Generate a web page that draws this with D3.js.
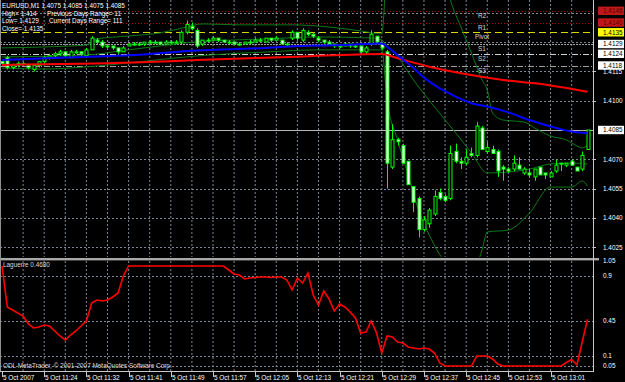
<!DOCTYPE html>
<html>
<head>
<meta charset="utf-8">
<script src="https://cdn.jsdelivr.net/npm/d3@7"></script>
<style>
  html, body { margin: 0; padding: 0; background: #000; }
  svg { display: block; }
  text { font-family: "Liberation Sans", Arial, sans-serif; font-size: 6.4px; fill: #fff; }
</style>
</head>
<body>
<svg id="chart" width="625" height="382"></svg>
<script>
// ---- data (EURUSD M1, 5 Oct 2007) ----
const timeLabels = ["5 Oct 2007", "5 Oct 11:24", "5 Oct 11:32", "5 Oct 11:41", "5 Oct 11:49", "5 Oct 11:57",
  "5 Oct 12:05", "5 Oct 12:13", "5 Oct 12:21", "5 Oct 12:29", "5 Oct 12:37", "5 Oct 12:45", "5 Oct 12:53", "5 Oct 13:01"];

const open = [1.4120,1.4122,1.4117,1.4118,1.4119,1.4118,1.4116,1.4118,1.4120,1.4122,1.4123,1.4124,1.4125,1.4122,1.4125,1.4125,
  1.4123,1.4126,1.4131,1.4130,1.4128,1.4128,1.4127,1.4125,1.4128,1.4129,1.4129,1.4129,1.4130,1.4130,1.4130,1.4129,
  1.4130,1.4130,1.4130,1.4135,1.4138,1.4136,1.4129,1.4131,1.4131,1.4132,1.4131,1.4130,1.4130,1.4129,1.4129,1.4130,
  1.4130,1.4131,1.4130,1.4132,1.4131,1.4131,1.4129,1.4132,1.4135,1.4131,1.4135,1.4134,1.4132,1.4131,1.4130,1.4129,
  1.4128,1.4128,1.4129,1.4128,1.4128,1.4125,1.4129,1.4133,1.4129,1.4125,1.4066,1.4080,1.4077,1.4069,1.4056,1.4050,
  1.4034,1.4037,1.4042,1.4053,1.4051,1.4050,1.4074,1.4069,1.4068,1.4073,1.4072,1.4086,1.4074,1.4075,1.4074,1.4066,
  1.4065,1.4065,1.4067,1.4063,1.4063,1.4061,1.4066,1.4063,1.4061,1.4064,1.4068,1.4067,1.4069,1.4066,1.4065,1.4075];
const high = [1.4121,1.4123,1.4119,1.4120,1.4120,1.4119,1.4118,1.4120,1.4123,1.4124,1.4125,1.4126,1.4125,1.4126,1.4126,1.4125,
  1.4127,1.4133,1.4132,1.4131,1.4129,1.4128,1.4127,1.4128,1.4130,1.4130,1.4130,1.4130,1.4131,1.4131,1.4130,1.4131,
  1.4131,1.4131,1.4136,1.4141,1.4140,1.4137,1.4131,1.4132,1.4133,1.4132,1.4131,1.4131,1.4130,1.4130,1.4130,1.4131,
  1.4132,1.4132,1.4132,1.4132,1.4133,1.4131,1.4130,1.4136,1.4135,1.4137,1.4136,1.4135,1.4133,1.4131,1.4131,1.4129,
  1.4129,1.4130,1.4129,1.4129,1.4128,1.4128,1.4136,1.4133,1.4130,1.4126,1.4088,1.4081,1.4078,1.4069,1.4056,1.4051,
  1.4041,1.4045,1.4054,1.4055,1.4052,1.4077,1.4078,1.4071,1.4075,1.4076,1.4089,1.4087,1.4079,1.4077,1.4075,1.4067,
  1.4066,1.4072,1.4071,1.4066,1.4065,1.4065,1.4066,1.4063,1.4064,1.4070,1.4068,1.4068,1.4070,1.4066,1.4074,1.4085];
const low = [1.4118,1.4116,1.4116,1.4117,1.4118,1.4116,1.4115,1.4117,1.4119,1.4121,1.4122,1.4123,1.4122,1.4122,1.4124,1.4123,
  1.4122,1.4126,1.4129,1.4127,1.4127,1.4126,1.4124,1.4125,1.4128,1.4128,1.4128,1.4128,1.4129,1.4129,1.4129,1.4129,
  1.4129,1.4129,1.4129,1.4134,1.4136,1.4127,1.4128,1.4130,1.4131,1.4130,1.4130,1.4129,1.4129,1.4128,1.4129,1.4129,
  1.4130,1.4130,1.4130,1.4130,1.4131,1.4129,1.4128,1.4131,1.4131,1.4130,1.4133,1.4132,1.4130,1.4129,1.4129,1.4127,
  1.4127,1.4128,1.4127,1.4127,1.4124,1.4124,1.4128,1.4129,1.4126,1.4055,1.4065,1.4077,1.4068,1.4057,1.4043,1.4030,
  1.4033,1.4035,1.4041,1.4049,1.4048,1.4049,1.4068,1.4065,1.4067,1.4071,1.4071,1.4075,1.4073,1.4073,1.4061,1.4059,
  1.4063,1.4064,1.4065,1.4062,1.4061,1.4059,1.4062,1.4060,1.4061,1.4063,1.4064,1.4066,1.4067,1.4064,1.4064,1.4075];
const close = [1.4119,1.4117,1.4118,1.4119,1.4119,1.4117,1.4118,1.4120,1.4122,1.4123,1.4124,1.4125,1.4123,1.4125,1.4125,1.4124,
  1.4126,1.4132,1.4130,1.4128,1.4128,1.4127,1.4125,1.4127,1.4129,1.4129,1.4129,1.4130,1.4130,1.4130,1.4129,1.4130,
  1.4130,1.4130,1.4135,1.4139,1.4137,1.4128,1.4131,1.4131,1.4132,1.4131,1.4130,1.4130,1.4129,1.4129,1.4130,1.4130,
  1.4131,1.4131,1.4132,1.4131,1.4132,1.4129,1.4129,1.4135,1.4132,1.4136,1.4134,1.4133,1.4131,1.4130,1.4129,1.4128,
  1.4128,1.4129,1.4128,1.4128,1.4125,1.4127,1.4134,1.4130,1.4127,1.4068,1.4080,1.4079,1.4068,1.4057,1.4048,1.4034,
  1.4039,1.4044,1.4051,1.4050,1.4049,1.4073,1.4069,1.4068,1.4071,1.4072,1.4087,1.4075,1.4076,1.4073,1.4064,1.4065,
  1.4064,1.4068,1.4065,1.4065,1.4062,1.4065,1.4062,1.4062,1.4063,1.4067,1.4068,1.4068,1.4067,1.4064,1.4072,1.4085];

// moving averages and bollinger bands, sampled at the bars where they were read
const blueBars = [0, 12, 25, 37, 50, 56, 65, 72, 73, 74, 76, 78, 80, 82, 84, 86, 89, 92, 96, 100, 104, 108, 111];
const blueVals = [1.41208,1.41221,1.41234,1.41257,1.41270,1.41280,1.41285,1.41293,1.41276,1.41255,1.41211,1.41167,1.41118,1.41080,1.41049,1.41021,
  1.40987,1.40970,1.40940,1.40901,1.40868,1.40842,1.40833];
const redBars = [0, 25, 37, 56, 72, 75, 81, 87, 95, 101, 111];
const redVals = [1.41183,1.41195,1.41208,1.41225,1.41239,1.41217,1.41174,1.41140,1.41106,1.41089,1.41046];

const bbBars = [0, 8, 16, 18, 24, 30, 35, 38, 45, 55, 62, 68, 72, 73, 76, 80, 84, 85, 87, 89, 91, 92, 93, 95, 97, 99, 101, 104, 107, 109, 110, 111];
const bbUpper = [1.41270,1.41275,1.41285,1.41316,1.41331,1.41347,1.41377,1.41393,1.41388,1.41388,1.41377,1.41357,1.41342,1.41669,1.41823,1.41874,
  1.41618,1.41516,1.41377,1.41244,1.41106,1.41055,1.40937,1.40901,1.40896,1.40891,1.40860,1.40819,1.40799,1.40768,1.40758,1.40773];
const midBars = [0, 16, 24, 37, 50, 60, 70, 72, 73, 75, 78, 82, 86, 89, 92, 96, 100, 104, 108, 111];
const bbMiddle = [1.41224,1.41234,1.41260,1.41301,1.41316,1.41326,1.41321,1.41311,1.41280,1.41224,1.41106,1.40968,1.40835,1.40733,1.40630,
  1.40635,1.40650,1.40676,1.40681,1.40676];
const lowBars = [0, 8, 16, 24, 37, 50, 60, 70, 72, 73, 75, 77, 79, 81, 84, 88, 90, 91, 92, 96, 100, 104, 108, 110, 111];
const bbLower = [1.41167,1.41162,1.41173,1.41193,1.41229,1.41249,1.41260,1.41260,1.41260,1.41004,1.40799,1.40620,1.40440,1.40312,1.40174,
  1.40108,1.40159,1.40236,1.40328,1.40338,1.40425,1.40558,1.40558,1.40589,1.40563];

// daily pivots
const pivotNames = ["R2", "R1", "Pivot", "S1", "S2", "S3"];
const pivotVals = [1.4146, 1.4140, 1.4135, 1.4129, 1.4124, 1.4118];

const priceTicks = [1.4025, 1.4040, 1.4055, 1.4070, 1.4085, 1.4100, 1.4115, 1.4130, 1.4145];
const priceTickLabels = ["1.4025", "1.4040", "1.4055", "1.4070", "", "1.4100", "1.4115", "", ""];
const bid = 1.4085;

// Laguerre RSI, one value per bar
const laguerre = [1.00,0.59,0.56,0.53,0.50,0.42,0.38,0.39,0.41,0.40,0.35,0.30,0.26,0.31,0.35,0.40,
  0.45,0.63,0.66,0.65,0.66,0.69,0.73,0.90,1.00,1.00,1.00,1.00,1.00,1.00,1.00,1.00,
  1.00,1.00,1.00,1.00,1.00,1.00,1.00,1.00,1.00,1.00,1.00,0.96,0.92,0.91,0.87,0.88,
  0.885,0.89,0.89,0.885,0.89,0.89,0.86,0.76,0.88,0.83,0.93,0.71,0.61,0.75,0.67,0.55,
  0.62,0.59,0.54,0.48,0.33,0.34,0.45,0.33,0.13,0.30,0.29,0.24,0.23,0.19,0.18,0.17,
  0.18,0.17,0.13,0.03,0,0,0,0,0,0,0.10,0.10,0.10,0.07,0.02,0,
  0,0,0,0,0,0,0,0,0,0,0,0.035,0.065,0.01,0.24,0.468];
const indLevels = [0.9, 0.45, 0.1, 0];
const indTickLabels = ["1.05", "0.9", "0.45", "0.1", "0.05"];
const indTickVals = [1.05, 0.9, 0.45, 0.1, 0];

// ---- layout ----
const W = 625, H = 382;
const plotRight = 593;
const mainTop = 0, mainBottom = 258;
const indTop = 261, indBottom = 371;

const svg = d3.select("#chart");
svg.append("rect").attr("width", W).attr("height", H).attr("fill", "#000");

const bars = d3.range(open.length);
const x = d3.scaleLinear().domain([0, 111]).range([2, 587.5]);
const y = d3.scaleLinear().domain([1.4020, 1.41505]).range([257, 2]);
const yi = d3.scaleLinear().domain([0, 1.05]).range([366, 261]);

const defs = svg.append("defs");
defs.append("clipPath").attr("id", "clipMain").append("rect")
  .attr("x", 0).attr("y", mainTop).attr("width", plotRight).attr("height", mainBottom - mainTop - 1);
defs.append("clipPath").attr("id", "clipInd").append("rect")
  .attr("x", 0).attr("y", indTop).attr("width", plotRight).attr("height", indBottom - indTop);

const gridColor = "#7b8794";

// vertical grid, every 4 bars, both windows
const vgrid = d3.range(4, 112, 4);
svg.append("g").selectAll("line").data(vgrid).join("line")
  .attr("x1", d => x(d)).attr("x2", d => x(d))
  .attr("y1", mainTop).attr("y2", mainBottom - 1)
  .attr("stroke", gridColor).attr("stroke-width", 1).attr("stroke-dasharray", "2,2");
svg.append("g").selectAll("line").data(vgrid).join("line")
  .attr("x1", d => x(d)).attr("x2", d => x(d))
  .attr("y1", indTop).attr("y2", indBottom)
  .attr("stroke", gridColor).attr("stroke-width", 1).attr("stroke-dasharray", "2,2");

// horizontal grid, main window
svg.append("g").selectAll("line").data(priceTicks).join("line")
  .attr("x1", 0).attr("x2", plotRight)
  .attr("y1", d => Math.round(y(d)) + 0.5).attr("y2", d => Math.round(y(d)) + 0.5)
  .attr("stroke", gridColor).attr("stroke-dasharray", "2,2");

// horizontal grid, indicator window
svg.append("g").selectAll("line").data(indLevels).join("line")
  .attr("x1", 0).attr("x2", plotRight)
  .attr("y1", d => Math.round(yi(d)) + 0.5).attr("y2", d => Math.round(yi(d)) + 0.5)
  .attr("stroke", gridColor).attr("stroke-dasharray", "2,2");

// pivot lines
const pivotStyle = [
  { c: "#a01010", dash: "1,2" },
  { c: "#a01010", dash: "1,2" },
  { c: "#d8d800", dash: "7,4" },
  { c: "#a0a0a0", dash: "2,1" },
  { c: "#d0d0d0", dash: "6,2,1,2" },
  { c: "#a0a0a0", dash: "6,2,1,2" }
];
const pv = svg.append("g");
pivotVals.forEach((v, i) => {
  const yy = Math.round(y(v)) + 0.5;
  pv.append("line").attr("x1", 0).attr("x2", plotRight).attr("y1", yy).attr("y2", yy)
    .attr("stroke", pivotStyle[i].c).attr("stroke-width", 1).attr("stroke-dasharray", pivotStyle[i].dash);
  pv.append("text").attr("x", 482).attr("y", yy + 6.5).attr("text-anchor", "middle")
    .style("fill", "#d8d8d8").text(pivotNames[i]);
});

// bid line
svg.append("line").attr("x1", 0).attr("x2", plotRight)
  .attr("y1", Math.round(y(bid)) + 0.5).attr("y2", Math.round(y(bid)) + 0.5)
  .attr("stroke", "#b8b8b8").attr("stroke-width", 1);

// bollinger bands
const main = svg.append("g").attr("clip-path", "url(#clipMain)");
const bandLine = (idx, vals) => d3.line().x((d, i) => x(idx[i])).y(d => y(d)).curve(d3.curveMonotoneX)(vals);
[[bbBars, bbUpper], [midBars, bbMiddle], [lowBars, bbLower]].forEach(([b, v]) => {
  main.append("path").attr("d", bandLine(b, v)).attr("fill", "none")
    .attr("stroke", "#0b7a17").attr("stroke-width", 1);
});

// candles
const cg = main.append("g");
cg.selectAll("line").data(bars).join("line")
  .attr("x1", i => Math.round(x(i)) + 0.5).attr("x2", i => Math.round(x(i)) + 0.5)
  .attr("y1", i => y(high[i])).attr("y2", i => y(low[i]))
  .attr("stroke", "#00ff00").attr("stroke-width", 1);
cg.selectAll("rect").data(bars).join("rect")
  .attr("x", i => Math.round(x(i)) - 1)
  .attr("width", 3)
  .attr("y", i => y(Math.max(open[i], close[i])))
  .attr("height", i => Math.max(1, Math.abs(y(open[i]) - y(close[i]))))
  .attr("fill", i => close[i] >= open[i] ? "#000" : "#fff")
  .attr("stroke", "#00ff00").attr("stroke-width", 1);

// moving averages
main.append("path").attr("d", bandLine(redBars, redVals)).attr("fill", "none")
  .attr("stroke", "#ff0000").attr("stroke-width", 2);
main.append("path").attr("d", bandLine(blueBars, blueVals)).attr("fill", "none")
  .attr("stroke", "#0000ff").attr("stroke-width", 2);

// laguerre line
svg.append("g").attr("clip-path", "url(#clipInd)").append("path")
  .datum(laguerre)
  .attr("d", d3.line().x((d, i) => x(i)).y(d => yi(d)))
  .attr("fill", "none").attr("stroke", "#ff0000").attr("stroke-width", 1.6);

// window separator and frame
svg.append("rect").attr("x", 0).attr("y", 258).attr("width", plotRight + 6).attr("height", 2.4).attr("fill", "#a8a8a8");
svg.append("line").attr("x1", plotRight + 0.5).attr("x2", plotRight + 0.5).attr("y1", 0).attr("y2", indBottom)
  .attr("stroke", "#c8c8c8");
svg.append("line").attr("x1", 0).attr("x2", plotRight + 1).attr("y1", indBottom + 0.5).attr("y2", indBottom + 0.5)
  .attr("stroke", "#c8c8c8");
svg.append("line").attr("x1", 0.5).attr("x2", 0.5).attr("y1", 0).attr("y2", indBottom)
  .attr("stroke", "#909090");

// price axis labels
const pa = svg.append("g");
priceTicks.forEach((v, i) => {
  if (!priceTickLabels[i]) return;
  pa.append("line").attr("x1", plotRight).attr("x2", plotRight + 3).attr("y1", Math.round(y(v)) + 0.5).attr("y2", Math.round(y(v)) + 0.5).attr("stroke", "#c8c8c8");
  pa.append("text").attr("x", 603).attr("y", y(v) + 2.3).text(priceTickLabels[i]);
});
const boxFill = ["#c01818", "#c01818", "#ffff00", "#fff", "#fff", "#fff"];
const boxText = ["#5a0000", "#5a0000", "#000", "#000", "#000", "#000"];
pivotVals.forEach((v, i) => {
  const yy = y(v);
  pa.append("rect").attr("x", 598).attr("y", yy - 4.2).attr("width", 26).attr("height", 8.4).attr("fill", boxFill[i]);
  pa.append("text").attr("x", 603).attr("y", yy + 2.3).style("fill", boxText[i]).text(d3.format(".4f")(v));
});
pa.append("rect").attr("x", 598).attr("y", y(bid) - 4.2).attr("width", 26).attr("height", 8.4).attr("fill", "#fff");
pa.append("text").attr("x", 603).attr("y", y(bid) + 2.3).style("fill", "#000").text(d3.format(".4f")(bid));

// indicator axis labels
indTickVals.forEach((v, i) => {
  pa.append("text").attr("x", 603).attr("y", yi(v) + 2.3).text(indTickLabels[i]);
});

// time axis
const ta = svg.append("g");
timeLabels.forEach((t, k) => {
  const xx = Math.round(x(k * 8)) + 0.5;
  ta.append("line").attr("x1", xx).attr("x2", xx).attr("y1", indBottom).attr("y2", indBottom + 6).attr("stroke", "#c8c8c8");
  ta.append("text").attr("x", xx + 0.5).attr("y", 379.5).text(t);
});

// texts in the windows
const info = svg.append("g");
info.append("text").attr("x", 2).attr("y", 8.4).text("EURUSD,M1  1.4075 1.4085 1.4075 1.4085");
info.append("text").attr("x", 2).attr("y", 15.8).text("High= 1.414");
info.append("text").attr("x", 47).attr("y", 15.8).text("Previous Days Range= 11");
info.append("text").attr("x", 2).attr("y", 23.2).text("Low= 1.4129");
info.append("text").attr("x", 49).attr("y", 23.2).text("Current Days Range= 111");
info.append("text").attr("x", 2).attr("y", 30.7).text("Close= 1.4135");
info.append("text").attr("x", 3).attr("y", 267.4).style("fill", "#d8d8d8").text("Laguerre 0.4680");
info.append("text").attr("x", 3).attr("y", 368).style("fill", "#d8d8d8")
  .text("ODL MetaTrader, \u00a9 2001-2007 MetaQuotes Software Corp.");
</script>
</body>
</html>
